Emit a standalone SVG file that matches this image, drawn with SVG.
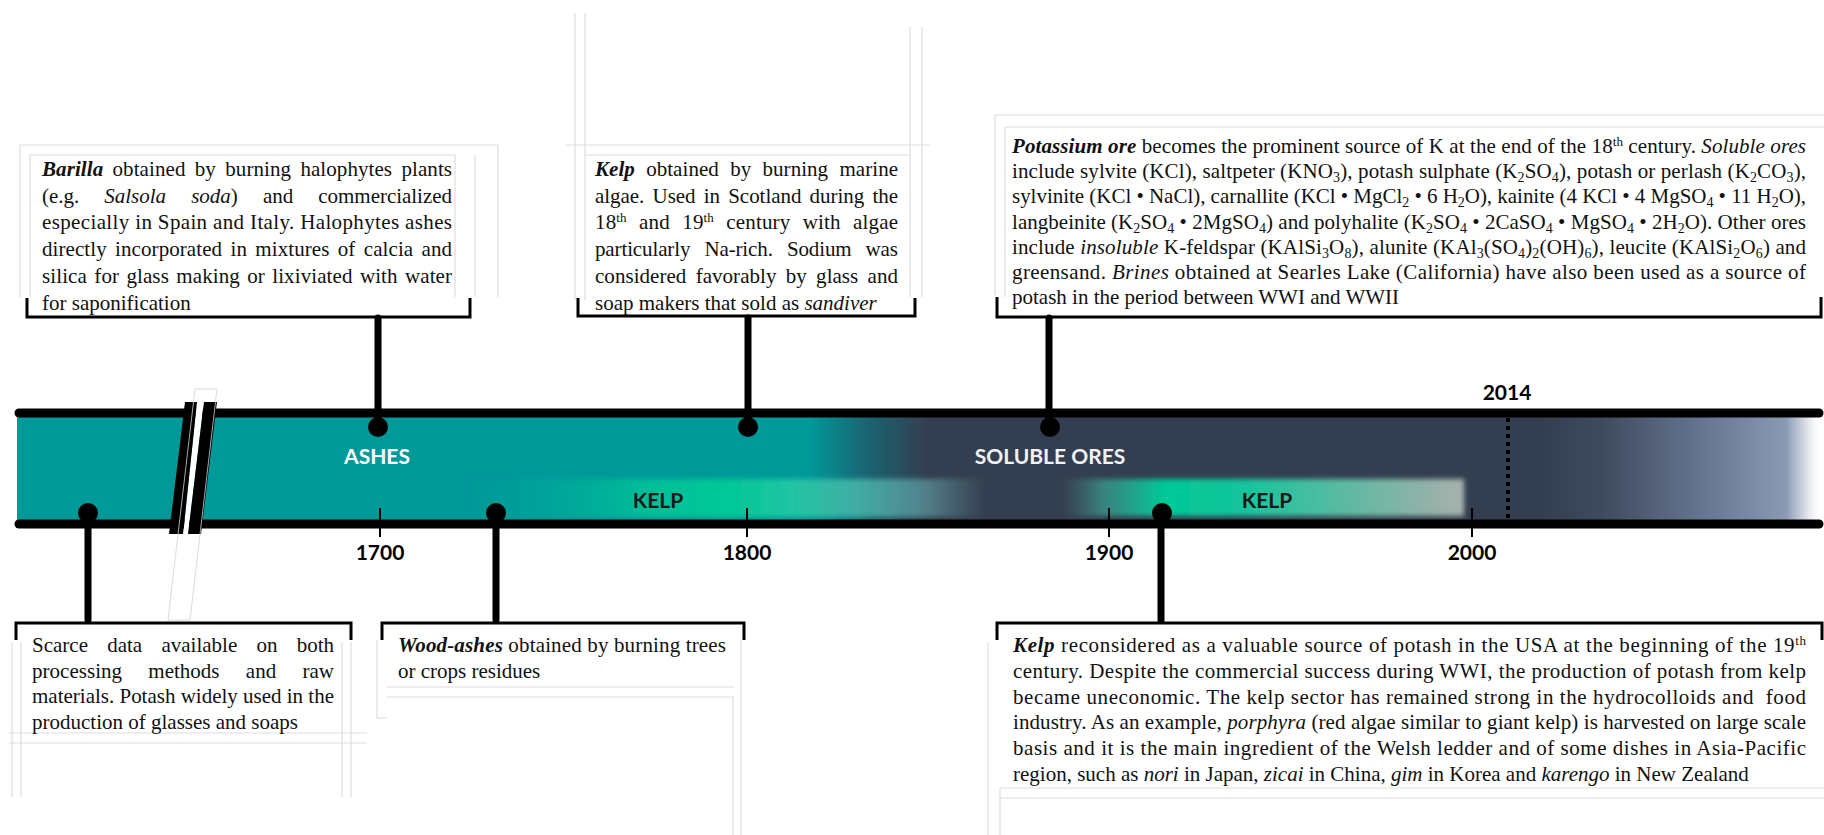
<svg xmlns="http://www.w3.org/2000/svg" width="1824" height="835" viewBox="0 0 1824 835">
<style>
.t{font-family:"Liberation Serif","Times New Roman",serif;font-size:21px;fill:#111}
.bi{font-weight:bold;font-style:italic}
.i{font-style:italic}
.lab{font-family:Lato,"Open Sans",sans-serif;font-weight:700;font-size:21px;text-anchor:middle}
.ghost{fill:none;stroke:#dedede;stroke-width:1.2}
.br{fill:none;stroke:#000;stroke-width:3}
.conn{stroke:#000;stroke-width:7;stroke-linecap:round}
.tick{stroke:#000;stroke-width:2}
.axis{stroke:#000;stroke-width:9;stroke-linecap:round}
</style>
<defs>
<linearGradient id="band" gradientUnits="userSpaceOnUse" x1="17" y1="0" x2="1818" y2="0">
<stop offset="0" stop-color="#009999"/>
<stop offset="0.44" stop-color="#009999"/>
<stop offset="0.472" stop-color="#1a6472"/>
<stop offset="0.505" stop-color="#333f50"/>
<stop offset="0.845" stop-color="#333f50"/>
<stop offset="0.88" stop-color="#3e4a5e"/>
<stop offset="0.93" stop-color="#62718b"/>
<stop offset="0.975" stop-color="#8494ae"/>
<stop offset="0.982" stop-color="#8a9ab3"/>
<stop offset="0.995" stop-color="#e6e8ee"/>
<stop offset="1" stop-color="#ffffff"/>
</linearGradient>
<linearGradient id="kelp1" gradientUnits="userSpaceOnUse" x1="470" y1="0" x2="985" y2="0">
<stop offset="0" stop-color="#00a39c" stop-opacity="0"/>
<stop offset="0.15" stop-color="#00aa9b" stop-opacity="0.6"/>
<stop offset="0.35" stop-color="#00bf98"/>
<stop offset="0.5" stop-color="#00c896"/>
<stop offset="0.62" stop-color="#1fc5a3"/>
<stop offset="0.75" stop-color="#45b3a7" stop-opacity="0.9"/>
<stop offset="0.88" stop-color="#5f9fa5" stop-opacity="0.7"/>
<stop offset="1" stop-color="#6a9aa0" stop-opacity="0"/>
</linearGradient>
<linearGradient id="kelp2" gradientUnits="userSpaceOnUse" x1="1062" y1="0" x2="1465" y2="0">
<stop offset="0" stop-color="#4a8a88" stop-opacity="0"/>
<stop offset="0.1" stop-color="#3a9f93" stop-opacity="0.7"/>
<stop offset="0.25" stop-color="#00c896"/>
<stop offset="0.45" stop-color="#14c59c"/>
<stop offset="0.7" stop-color="#5cbaa2"/>
<stop offset="0.9" stop-color="#90b2a8"/>
<stop offset="1" stop-color="#a8b2ae"/>
</linearGradient>
<filter id="blur" x="-5%" y="-50%" width="110%" height="200%"><feGaussianBlur stdDeviation="2.5"/></filter>
</defs>
<rect width="1824" height="835" fill="#fff"/>

<g id="timeline">
<rect x="17" y="417" width="1801" height="104" fill="url(#band)"/>
<rect x="470" y="479" width="515" height="38" fill="url(#kelp1)" filter="url(#blur)"/>
<rect x="1062" y="479" width="402" height="37" fill="url(#kelp2)" filter="url(#blur)"/>
<line class="axis" x1="19" y1="413" x2="1819" y2="413"/>
<line class="axis" x1="19" y1="524" x2="1819" y2="524"/>
<polygon points="197,400 204,400 188,536 183,536" fill="#fff"/>
<polygon points="185,402 197,402 183,534 169,534" fill="#000"/>
<polygon points="204,402 217,402 201,534 188,534" fill="#000"/>
<polygon points="195,389 217,389 190,620 168,620" fill="none" stroke="#d2d2d2" stroke-width="0.8"/>
<line x1="1508" y1="418" x2="1508" y2="520" stroke="#000" stroke-width="4" stroke-dasharray="4 4"/>
<line class="tick" x1="380" y1="508" x2="380" y2="537"/>
<line class="tick" x1="747" y1="508" x2="747" y2="537"/>
<line class="tick" x1="1109" y1="508" x2="1109" y2="537"/>
<line class="tick" x1="1472" y1="508" x2="1472" y2="537"/>
<text class="lab" x="380" y="560">1700</text>
<text class="lab" x="747" y="560">1800</text>
<text class="lab" x="1109" y="560">1900</text>
<text class="lab" x="1472" y="560">2000</text>
<text class="lab" x="1507" y="400">2014</text>
<text class="lab" x="377" y="464" fill="#fff">ASHES</text>
<text class="lab" x="1050" y="464" fill="#f2f2f2">SOLUBLE ORES</text>
<text class="lab" x="658" y="508" fill="#1a1a1a">KELP</text>
<text class="lab" x="1267" y="508" fill="#1a1a1a">KELP</text>
</g>

<g id="connectors">
<line class="conn" x1="378" y1="318" x2="378" y2="427"/>
<line class="conn" x1="748" y1="318" x2="748" y2="427"/>
<line class="conn" x1="1049" y1="318" x2="1049" y2="427"/>
<line class="conn" x1="88" y1="513" x2="88" y2="620"/>
<line class="conn" x1="496" y1="513" x2="496" y2="620"/>
<line class="conn" x1="1161" y1="513" x2="1161" y2="620"/>
<circle cx="378" cy="427" r="10"/>
<circle cx="748" cy="427" r="10"/>
<circle cx="1050" cy="427" r="10"/>
<circle cx="88" cy="513" r="10"/>
<circle cx="496" cy="513" r="10"/>
<circle cx="1162" cy="513" r="10"/>
</g>

<g id="barilla">
<path class="ghost" d="M20,297 V145 H498 V297"/>
<path class="ghost" d="M30,297 V155 H455 V297"/>
<line class="ghost" x1="475" y1="155" x2="475" y2="297"/>
<path class="br" d="M27,298 V317 H470 V298"/>
<text class="t" x="42" y="176" textLength="410" lengthAdjust="spacing" word-spacing="4"><tspan class="bi">Barilla</tspan> obtained by burning halophytes plants</text>
<text class="t" x="42" y="202.7" textLength="410" lengthAdjust="spacing" word-spacing="20">(e.g. <tspan class="i">Salsola soda</tspan>) and commercialized</text>
<text class="t" x="42" y="229.4" textLength="410" lengthAdjust="spacing">especially in Spain and Italy. Halophytes ashes</text>
<text class="t" x="42" y="256.1" textLength="410" lengthAdjust="spacing" word-spacing="3">directly incorporated in mixtures of calcia and</text>
<text class="t" x="42" y="282.8" textLength="410" lengthAdjust="spacing" word-spacing="2">silica for glass making or lixiviated with water</text>
<text class="t" x="42" y="309.5">for saponification</text>
</g>

<g id="kelp-1800">
<line class="ghost" x1="575" y1="13" x2="575" y2="300"/>
<line class="ghost" x1="585" y1="13" x2="585" y2="300"/>
<line class="ghost" x1="910" y1="27" x2="910" y2="297"/>
<line class="ghost" x1="922" y1="27" x2="922" y2="297"/>
<line class="ghost" x1="565" y1="145" x2="930" y2="145"/>
<line class="ghost" x1="585" y1="155" x2="910" y2="155"/>
<path class="br" d="M578,298 V316 H915 V298"/>
<text class="t" x="595" y="176" textLength="303" lengthAdjust="spacing" word-spacing="6"><tspan class="bi">Kelp</tspan> obtained by burning marine</text>
<text class="t" x="595" y="202.7" textLength="303" lengthAdjust="spacing" word-spacing="3">algae. Used in Scotland during the</text>
<text class="t" x="595" y="229.4" textLength="303" lengthAdjust="spacing" word-spacing="7">18<tspan baseline-shift="7" font-size="13">th</tspan> and 19<tspan baseline-shift="7" font-size="13">th</tspan> century with algae</text>
<text class="t" x="595" y="256.1" textLength="303" lengthAdjust="spacing" word-spacing="9">particularly Na-rich. Sodium was</text>
<text class="t" x="595" y="282.8" textLength="303" lengthAdjust="spacing" word-spacing="4">considered favorably by glass and</text>
<text class="t" x="595" y="309.5">soap makers that sold as <tspan class="i">sandiver</tspan></text>
</g>

<g id="potassium-ore">
<line class="ghost" x1="995" y1="115" x2="1824" y2="115"/>
<line class="ghost" x1="1005" y1="127" x2="1824" y2="127"/>
<line class="ghost" x1="995" y1="115" x2="995" y2="295"/>
<line class="ghost" x1="1005" y1="127" x2="1005" y2="297"/>
<path class="br" d="M997,297 V317 H1821 V297"/>
<text class="t" x="1012" y="153" textLength="794" lengthAdjust="spacing"><tspan class="bi">Potassium ore</tspan> becomes the prominent source of K at the end of the 18<tspan baseline-shift="7" font-size="13">th</tspan> century. <tspan class="i">Soluble ores</tspan></text>
<text class="t" x="1012" y="178.2" textLength="794" lengthAdjust="spacing">include sylvite (KCl), saltpeter (KNO<tspan baseline-shift="-4" font-size="14">3</tspan>), potash sulphate (K<tspan baseline-shift="-4" font-size="14">2</tspan>SO<tspan baseline-shift="-4" font-size="14">4</tspan>), potash or perlash (K<tspan baseline-shift="-4" font-size="14">2</tspan>CO<tspan baseline-shift="-4" font-size="14">3</tspan>),</text>
<text class="t" x="1012" y="203.4" textLength="794" lengthAdjust="spacing">sylvinite (KCl • NaCl), carnallite (KCl • MgCl<tspan baseline-shift="-4" font-size="14">2</tspan> • 6 H<tspan baseline-shift="-4" font-size="14">2</tspan>O), kainite (4 KCl • 4 MgSO<tspan baseline-shift="-4" font-size="14">4</tspan> • 11 H<tspan baseline-shift="-4" font-size="14">2</tspan>O),</text>
<text class="t" x="1012" y="228.6" textLength="794" lengthAdjust="spacing">langbeinite (K<tspan baseline-shift="-4" font-size="14">2</tspan>SO<tspan baseline-shift="-4" font-size="14">4</tspan> • 2MgSO<tspan baseline-shift="-4" font-size="14">4</tspan>) and polyhalite (K<tspan baseline-shift="-4" font-size="14">2</tspan>SO<tspan baseline-shift="-4" font-size="14">4</tspan> • 2CaSO<tspan baseline-shift="-4" font-size="14">4</tspan> • MgSO<tspan baseline-shift="-4" font-size="14">4</tspan> • 2H<tspan baseline-shift="-4" font-size="14">2</tspan>O). Other ores</text>
<text class="t" x="1012" y="253.8" textLength="794" lengthAdjust="spacing">include <tspan class="i">insoluble</tspan> K-feldspar (KAlSi<tspan baseline-shift="-4" font-size="14">3</tspan>O<tspan baseline-shift="-4" font-size="14">8</tspan>), alunite (KAl<tspan baseline-shift="-4" font-size="14">3</tspan>(SO<tspan baseline-shift="-4" font-size="14">4</tspan>)<tspan baseline-shift="-4" font-size="14">2</tspan>(OH)<tspan baseline-shift="-4" font-size="14">6</tspan>), leucite (KAlSi<tspan baseline-shift="-4" font-size="14">2</tspan>O<tspan baseline-shift="-4" font-size="14">6</tspan>) and</text>
<text class="t" x="1012" y="279" textLength="794" lengthAdjust="spacing">greensand. <tspan class="i">Brines</tspan> obtained at Searles Lake (California) have also been used as a source of</text>
<text class="t" x="1012" y="304.2">potash in the period between WWI and WWII</text>
</g>

<g id="scarce-data">
<line class="ghost" x1="12" y1="642" x2="12" y2="797"/>
<line class="ghost" x1="21" y1="642" x2="21" y2="797"/>
<line class="ghost" x1="342" y1="642" x2="342" y2="797"/>
<line class="ghost" x1="351" y1="642" x2="351" y2="797"/>
<line class="ghost" x1="9" y1="733" x2="367" y2="733"/>
<line class="ghost" x1="9" y1="743" x2="367" y2="743"/>
<path class="br" d="M16,640 V623 H351 V640"/>
<text class="t" x="32" y="652" textLength="302" lengthAdjust="spacing" word-spacing="14">Scarce data available on both</text>
<text class="t" x="32" y="677.5" textLength="302" lengthAdjust="spacing" word-spacing="21">processing methods and raw</text>
<text class="t" x="32" y="703" textLength="302" lengthAdjust="spacing">materials. Potash widely used in the</text>
<text class="t" x="32" y="728.5">production of glasses and soaps</text>
</g>

<g id="wood-ashes">
<line class="ghost" x1="387" y1="687" x2="734" y2="687"/>
<line class="ghost" x1="387" y1="697" x2="734" y2="697"/>
<line class="ghost" x1="377" y1="640" x2="377" y2="718"/>
<line class="ghost" x1="377" y1="718" x2="387" y2="718"/>
<line class="ghost" x1="741" y1="640" x2="741" y2="835"/>
<line class="ghost" x1="733" y1="697" x2="733" y2="835"/>
<path class="br" d="M382,640 V623 H744 V640"/>
<text class="t" x="398" y="652" textLength="328" lengthAdjust="spacing"><tspan class="bi">Wood-ashes</tspan> obtained by burning trees</text>
<text class="t" x="398" y="677.5">or crops residues</text>
</g>

<g id="kelp-usa">
<line class="ghost" x1="1000" y1="788" x2="1824" y2="788"/>
<line class="ghost" x1="1000" y1="798" x2="1824" y2="798"/>
<line class="ghost" x1="988" y1="642" x2="988" y2="835"/>
<line class="ghost" x1="1000" y1="788" x2="1000" y2="835"/>
<path class="br" d="M997,640 V623 H1822 V640"/>
<text class="t" x="1013" y="652" textLength="793" lengthAdjust="spacing"><tspan class="bi">Kelp</tspan> reconsidered as a valuable source of potash in the USA at the beginning of the 19<tspan baseline-shift="7" font-size="13">th</tspan></text>
<text class="t" x="1013" y="677.8" textLength="793" lengthAdjust="spacing">century. Despite the commercial success during WWI, the production of potash from kelp</text>
<text class="t" x="1013" y="703.6" textLength="793" lengthAdjust="spacing" xml:space="preserve">became uneconomic. The kelp sector has remained strong in the hydrocolloids and  food</text>
<text class="t" x="1013" y="729.4" textLength="793" lengthAdjust="spacing">industry. As an example, <tspan class="i">porphyra</tspan> (red algae similar to giant kelp) is harvested on large scale</text>
<text class="t" x="1013" y="755.2" textLength="793" lengthAdjust="spacing">basis and it is the main ingredient of the Welsh ledder and of some dishes in Asia-Pacific</text>
<text class="t" x="1013" y="781">region, such as <tspan class="i">nori</tspan> in Japan, <tspan class="i">zicai</tspan> in China, <tspan class="i">gim</tspan> in Korea and <tspan class="i">karengo</tspan> in New Zealand</text>
</g>
</svg>
